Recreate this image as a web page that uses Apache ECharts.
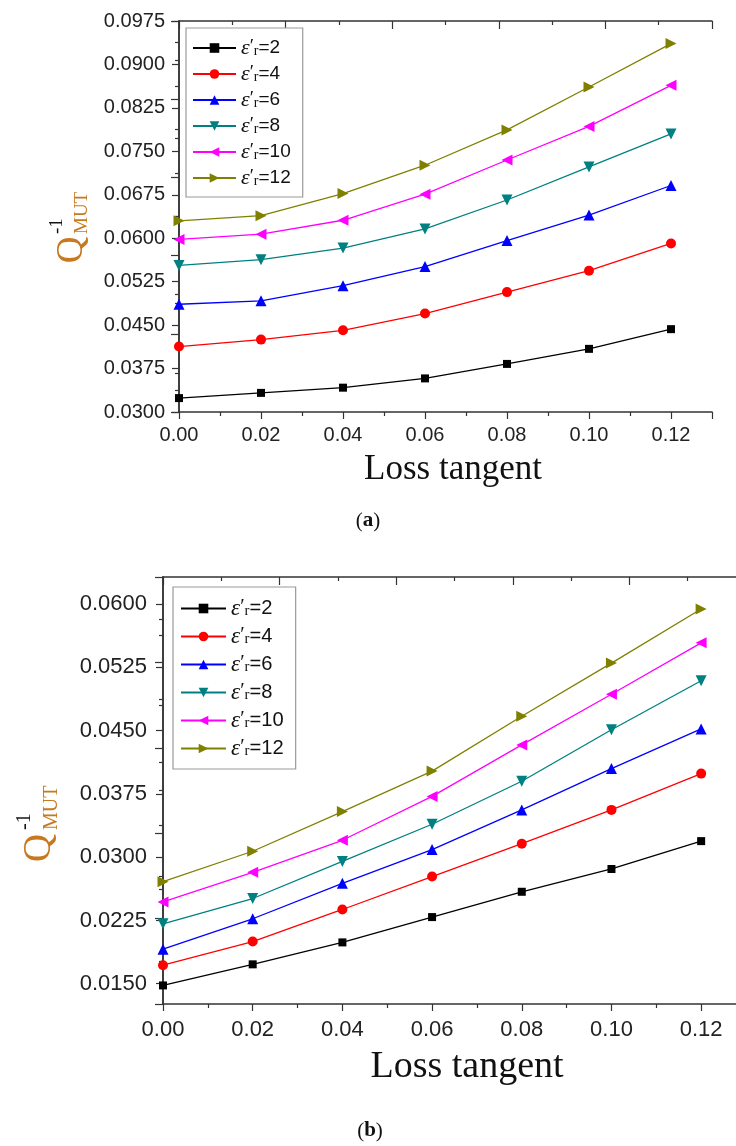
<!DOCTYPE html>
<html>
<head>
<meta charset="utf-8">
<script src="https://cdn.jsdelivr.net/npm/echarts@6/dist/echarts.min.js"></script>
<style>
    html, body { margin: 0; padding: 0; background: #fff; overflow: hidden; }
    #chart { width: 760px; height: 1146px; }
</style>
</head>
<body>
<div id="chart"></div>
<script>
    // x values (loss tangent)
    const lossTangent = [0, 0.02, 0.04, 0.06, 0.08, 0.10, 0.12]
    const epsLabels = [2, 4, 6, 8, 10, 12]

    // (a) Q^-1 MUT
    const a_eps2 = [0.0324, 0.0333, 0.0342, 0.0358, 0.0383, 0.0409, 0.0443]
    const a_eps4 = [0.0413, 0.0425, 0.0441, 0.0470, 0.0507, 0.0544, 0.0591]
    const a_eps6 = [0.0486, 0.0492, 0.0518, 0.0551, 0.0596, 0.0640, 0.0691]
    const a_eps8 = [0.0553, 0.0563, 0.0583, 0.0616, 0.0666, 0.0723, 0.0780]
    const a_eps10 = [0.0598, 0.0607, 0.0631, 0.0676, 0.0735, 0.0793, 0.0864]
    const a_eps12 = [0.0630, 0.0639, 0.0677, 0.0726, 0.0787, 0.0861, 0.0936]

    // (b) Q^-1 MUT
    const b_eps2 = [0.0148, 0.0173, 0.0199, 0.0229, 0.0259, 0.0286, 0.0319]
    const b_eps4 = [0.0172, 0.0200, 0.0238, 0.0277, 0.0316, 0.0356, 0.0399]
    const b_eps6 = [0.0191, 0.0227, 0.0269, 0.0309, 0.0356, 0.0405, 0.0452]
    const b_eps8 = [0.0221, 0.0251, 0.0295, 0.0339, 0.0390, 0.0451, 0.0509]
    const b_eps10 = [0.0247, 0.0282, 0.0320, 0.0372, 0.0433, 0.0493, 0.0554]
    const b_eps12 = [0.0271, 0.0307, 0.0354, 0.0402, 0.0467, 0.0530, 0.0594]

    // tick labels
    const yTicksA = [0.0300, 0.0375, 0.0450, 0.0525, 0.0600, 0.0675, 0.0750, 0.0825, 0.0900, 0.0975]
    const yMinorA = [0.03375, 0.04125, 0.04875, 0.05625, 0.06375, 0.07125, 0.07875, 0.08625, 0.09375]
    const yTicksB = [0.0150, 0.0225, 0.0300, 0.0375, 0.0450, 0.0525, 0.0600]
    const yMinorB = [0.01875, 0.02625, 0.03375, 0.04125, 0.04875, 0.05625]

    const seriesA = [a_eps2, a_eps4, a_eps6, a_eps8, a_eps10, a_eps12]
    const seriesB = [b_eps2, b_eps4, b_eps6, b_eps8, b_eps10, b_eps12]

    const colors = ['#000000', '#ff0000', '#0000ff', '#008080', '#ff00ff', '#808000']
    const symbols = ['rect', 'circle', 'triangle',
        'path://M0,0 L10,0 L5,9 Z',
        'path://M9,0 L9,10 L0,5 Z',
        'path://M0,0 L0,10 L9,5 Z']
    const symbolSizes = [8, 10, 11, 11, 11, 11]

    const frameColor = '#333333'
    const titleColor = '#c8781e'
    const sans = '"Liberation Sans", Arial, sans-serif'
    const serif = '"Liberation Serif", "Times New Roman", serif'

    const chart = echarts.init(document.getElementById('chart'))

    function seriesName(v) {
        return "ε'r=" + v
    }

    function bottomAxis(gridIndex, fontSize, margin) {
        return {
            gridIndex, type: 'value', min: 0, max: 0.13, interval: 0.02,
            axisLine: { lineStyle: { color: frameColor, width: 1.5 } },
            axisTick: { length: 7, lineStyle: { color: frameColor, width: 1.2 } },
            minorTick: { show: true, splitNumber: 2, length: 4, lineStyle: { color: frameColor, width: 1.2 } },
            axisLabel: {
                color: '#222', fontSize, fontFamily: sans, margin, showMaxLabel: false,
                formatter: v => v.toFixed(2)
            },
            splitLine: { show: false }
        }
    }

    // mirrored top / right axes, ticks pointing into the plot
    function mirrorAxis(gridIndex, position) {
        return {
            gridIndex, type: 'value', position, min: 0, max: 10, interval: 2,
            axisLine: { lineStyle: { color: frameColor, width: 1.5 } },
            axisTick: { inside: true, length: 8, lineStyle: { color: frameColor, width: 1.2 } },
            minorTick: { show: true, splitNumber: 2, length: 4, lineStyle: { color: frameColor, width: 1.2 } },
            axisLabel: { show: false },
            splitLine: { show: false }
        }
    }

    function leftAxis(gridIndex, min, max, ticks, fontSize, margin) {
        return {
            gridIndex, type: 'value', position: 'left', min, max,
            axisLine: { lineStyle: { color: frameColor, width: 1.5 } },
            axisTick: { length: 7, customValues: ticks, lineStyle: { color: frameColor, width: 1.2 } },
            axisLabel: {
                customValues: ticks, color: '#222', fontSize, fontFamily: sans, margin,
                formatter: v => v.toFixed(4)
            },
            splitLine: { show: false }
        }
    }

    function leftMinorAxis(gridIndex, min, max, minors) {
        return {
            gridIndex, type: 'value', position: 'left', min, max,
            axisLine: { show: false },
            axisTick: { length: 4, customValues: minors, lineStyle: { color: frameColor, width: 1.2 } },
            axisLabel: { show: false },
            splitLine: { show: false }
        }
    }

    function buildSeries(list, xAxisIndex, yAxisIndex) {
        return list.map((vals, i) => ({
            name: seriesName(epsLabels[i]),
            type: 'line',
            xAxisIndex, yAxisIndex,
            symbol: symbols[i],
            symbolSize: symbolSizes[i],
            color: colors[i],
            lineStyle: { width: 1.3, color: colors[i] },
            itemStyle: { color: colors[i] },
            clip: false,
            z: 3,
            data: lossTangent.map((x, k) => [x, vals[k]])
        }))
    }

    function legendRich(s, lh) {
        return {
            e: { fontFamily: serif, fontStyle: 'italic', fontSize: 22 * s, color: '#111', lineHeight: lh },
            p: { fontFamily: serif, fontSize: 19 * s, color: '#111', lineHeight: 12 * s, verticalAlign: 'top' },
            r: { fontFamily: serif, fontSize: 14 * s, color: '#111', lineHeight: 11 * s, verticalAlign: 'bottom' },
            t: { fontFamily: sans, fontSize: 19 * s, color: '#111', lineHeight: lh }
        }
    }

    function legendFormatter(name) {
        const v = name.split('=')[1]
        return '{e|ε}{p|′}{r|r}{t|=' + v + '}'
    }

    function makeLegend(left, top, itemWidth, gap, s, lh, padding) {
        return {
            orient: 'vertical', left, top,
            data: epsLabels.map(seriesName),
            itemWidth, itemHeight: 12, itemGap: gap,
            borderColor: '#9a9a9a', borderWidth: 1.2, padding,
            backgroundColor: '#fff',
            formatter: legendFormatter,
            textStyle: { lineHeight: lh, rich: legendRich(s, lh) },
            selectedMode: false
        }
    }

    function yTitle(x, y, qSize, subSize, supX, supY, subX, subY) {
        return {
            type: 'group', x, y, rotation: Math.PI / 2,
            children: [
                { type: 'text', x: 0, y: 0, style: { text: 'Q', fontFamily: serif, fontSize: qSize, fill: titleColor, align: 'center', verticalAlign: 'middle' } },
                { type: 'text', x: supX, y: supY, style: { text: '-1', fontFamily: serif, fontSize: subSize, fill: '#111', align: 'left', verticalAlign: 'middle' } },
                { type: 'text', x: subX, y: subY, style: { text: 'MUT', fontFamily: serif, fontSize: subSize, fill: titleColor, align: 'left', verticalAlign: 'middle' } }
            ]
        }
    }

    function caption(x, y, letter) {
        return {
            type: 'text', x, y,
            style: {
                text: '{n|(}{b|' + letter + '}{n|)}',
                align: 'center', verticalAlign: 'middle',
                rich: {
                    n: { fontFamily: serif, fontSize: 21, fill: '#111' },
                    b: { fontFamily: serif, fontSize: 21, fontWeight: 'bold', fill: '#111' }
                }
            }
        }
    }

    const option = {
        backgroundColor: '#ffffff',
        animation: false,
        grid: [
            { left: 179, top: 21, width: 533, height: 391 },
            { left: 163, top: 577, width: 583, height: 427 }
        ],
        xAxis: [
            bottomAxis(0, 20, 13),
            mirrorAxis(0, 'top'),
            bottomAxis(1, 22, 15),
            mirrorAxis(1, 'top')
        ],
        yAxis: [
            leftAxis(0, 0.03, 0.0975, yTicksA, 20, 14),
            mirrorAxis(0, 'right'),
            leftMinorAxis(0, 0.03, 0.0975, yMinorA),
            leftAxis(1, 0.0126, 0.0632, yTicksB, 22, 16),
            mirrorAxis(1, 'right'),
            leftMinorAxis(1, 0.0126, 0.0632, yMinorB)
        ],
        legend: [
            makeLegend(186, 28, 43, 4, 1, 20, [9, 12, 8, 6]),
            makeLegend(173, 587, 45, 5, 1.06, 21, [10, 12, 9, 7])
        ],
        graphic: [
            { type: 'text', x: 453, y: 470, style: { text: 'Loss tangent', fontFamily: serif, fontSize: 35, fill: '#111', align: 'center', verticalAlign: 'middle' } },
            { type: 'text', x: 467, y: 1067, style: { text: 'Loss tangent', fontFamily: serif, fontSize: 38, fill: '#111', align: 'center', verticalAlign: 'middle' } },
            yTitle(72, 250, 37, 19, 16, -15, 16, 10),
            yTitle(40, 848, 39, 20, 18, -15, 18, 12),
            caption(368, 521, 'a'),
            caption(370, 1131, 'b')
        ],
        series: [
            ...buildSeries(seriesA, 0, 0),
            ...buildSeries(seriesB, 2, 3)
        ]
    }

    chart.setOption(option)
    window.addEventListener('resize', function () {
        chart.resize()
    })
</script>
</body>
</html>
